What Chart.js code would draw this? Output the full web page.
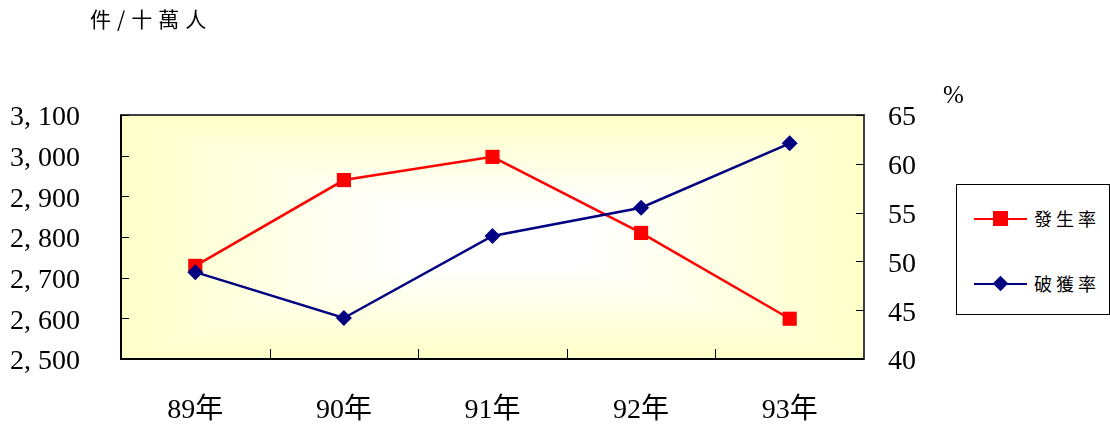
<!DOCTYPE html>
<html>
<head>
<meta charset="utf-8">
<script src="https://cdn.jsdelivr.net/npm/chart.js@4.4.0/dist/chart.umd.min.js"></script>
<style>
html, body { margin: 0; padding: 0; background: #fff; }
#wrap { position: relative; width: 1110px; height: 427px; overflow: hidden; }
#chart { position: absolute; left: 0; top: 0; }
.unit { position: absolute; color: #000; line-height: 1; white-space: nowrap; }
#unitLeft { left: 90px; top: 8px; font-family: 'Noto Sans CJK TC', sans-serif; font-size: 21px; letter-spacing: 6px; }
#unitRight { left: 943px; top: 82px; font-family: 'Liberation Serif', serif; font-size: 25px; }
#legend { position: absolute; left: 956px; top: 184px; width: 152px; height: 129px; border: 1px solid #000; background: #fff; }
.item { position: absolute; left: 0; width: 152px; height: 30px; }
.item .line { position: absolute; left: 17px; width: 53px; height: 2px; top: 14px; }
.item .mark { position: absolute; }
.item .txt { position: absolute; left: 77px; top: 4px; font-family: 'Noto Sans CJK TC', sans-serif; font-size: 18px; letter-spacing: 4px; line-height: 1.2; color: #000; }
</style>
</head>
<body>
<div id="wrap">
  <canvas id="chart" width="1110" height="427"></canvas>
  <div class="unit" id="unitLeft">件/十萬人</div>
  <div class="unit" id="unitRight">%</div>
  <div id="legend"></div>
</div>
<script>
// --- 資料 ---
const years = ['89年', '90年', '91年', '92年', '93年'];
const occurRate = [2729, 2940, 2997, 2810, 2599];   // 發生率 (件/十萬人)
const clearRate = [48.9, 44.2, 52.6, 55.5, 62.1];   // 破獲率 (%)
const seriesNames = ['發生率', '破獲率'];

const RED = '#ff0000';
const NAVY = '#000080';
const NUM_FONT = "'Liberation Serif', 'Noto Sans CJK TC', serif";

// 繪圖區背景 (由中心向外的漸層)、外框與內側刻度
const plotFrame = {
    id: 'plotFrame',
    beforeDatasetsDraw(chart) {
        const { ctx, chartArea: a, scales } = chart;
        const cx = (a.left + a.right) / 2;
        const cy = (a.top + a.bottom) / 2;
        const sides = [
            [[a.left, a.top], [a.right, a.top], [cx, a.top]],
            [[a.right, a.top], [a.right, a.bottom], [a.right, cy]],
            [[a.right, a.bottom], [a.left, a.bottom], [cx, a.bottom]],
            [[a.left, a.bottom], [a.left, a.top], [a.left, cy]]
        ];
        ctx.save();
        sides.forEach(([p1, p2, edge]) => {
            const g = ctx.createLinearGradient(cx, cy, edge[0], edge[1]);
            g.addColorStop(0, '#ffffff');
            g.addColorStop(0.25, '#ffffff');
            g.addColorStop(1, '#ffffc8');
            ctx.beginPath();
            ctx.moveTo(cx, cy);
            ctx.lineTo(p1[0], p1[1]);
            ctx.lineTo(p2[0], p2[1]);
            ctx.closePath();
            ctx.fillStyle = g;
            ctx.strokeStyle = g;
            ctx.lineWidth = 1;
            ctx.fill();
            ctx.stroke();
        });

        // 外框
        ctx.strokeStyle = '#404040';
        ctx.lineWidth = 2;
        ctx.strokeRect(a.left, a.top, a.right - a.left, a.bottom - a.top);
        ctx.strokeStyle = '#000';
        ctx.beginPath();
        ctx.moveTo(a.left, a.top);
        ctx.lineTo(a.left, a.bottom);
        ctx.lineTo(a.right, a.bottom);
        ctx.stroke();

        // 內側刻度
        ctx.lineWidth = 1;
        ctx.strokeStyle = '#000';
        ctx.beginPath();
        scales.y.ticks.forEach(t => {
            const py = Math.round(scales.y.getPixelForValue(t.value)) + 0.5;
            ctx.moveTo(a.left, py);
            ctx.lineTo(a.left + 8, py);
        });
        scales.y2.ticks.forEach(t => {
            const py = Math.round(scales.y2.getPixelForValue(t.value)) + 0.5;
            ctx.moveTo(a.right, py);
            ctx.lineTo(a.right - 8, py);
        });
        for (let i = 1; i < years.length; i++) {
            const px = Math.round((scales.x.getPixelForValue(i - 1) + scales.x.getPixelForValue(i)) / 2) + 0.5;
            ctx.moveTo(px, a.bottom);
            ctx.lineTo(px, a.bottom - 10);
        }
        ctx.stroke();
        ctx.restore();
    }
};

const chart = new Chart(document.getElementById('chart'), {
    type: 'line',
    data: {
        labels: years,
        datasets: [{
            label: seriesNames[0],
            data: occurRate,
            yAxisID: 'y',
            borderColor: RED,
            backgroundColor: RED,
            borderWidth: 2.5,
            pointStyle: 'rect',
            pointRadius: 10,
            pointBorderWidth: 0,
            order: 1
        }, {
            label: seriesNames[1],
            data: clearRate,
            yAxisID: 'y2',
            borderColor: NAVY,
            backgroundColor: NAVY,
            borderWidth: 2.5,
            pointStyle: 'rectRot',
            pointRadius: 8,
            pointBorderWidth: 0,
            order: 0
        }]
    },
    options: {
        responsive: false,
        animation: false,
        layout: { padding: { top: 115, left: 0, right: 0, bottom: 0 } },
        plugins: {
            legend: { display: false },
            tooltip: { enabled: false }
        },
        scales: {
            x: {
                offset: true,
                grid: { display: false, drawTicks: false },
                border: { display: false },
                ticks: { color: '#000', font: { family: NUM_FONT, size: 28 }, padding: 35, maxRotation: 0 },
                afterFit(s) { s.height = 68; }
            },
            y: {
                position: 'left',
                min: 2500,
                max: 3100,
                grid: { display: false, drawTicks: false },
                border: { display: false },
                ticks: {
                    stepSize: 100,
                    color: '#000',
                    padding: 41,
                    labelOffset: 3,
                    font: { family: NUM_FONT, size: 28 },
                    callback: v => v.toLocaleString('en-US').replace(',', ', ')
                },
                afterFit(s) { s.width = 121; }
            },
            y2: {
                position: 'right',
                min: 40,
                max: 65,
                grid: { display: false, drawTicks: false },
                border: { display: false },
                ticks: { stepSize: 5, color: '#000', padding: 24, labelOffset: 3, font: { family: NUM_FONT, size: 28 } },
                afterFit(s) { s.width = 246; }
            }
        }
    },
    plugins: [plotFrame]
});

// 圖例 (HTML)
const legend = document.getElementById('legend');
const legendTops = [19, 84];
chart.data.datasets.forEach((ds, i) => {
    const item = document.createElement('div');
    item.className = 'item';
    item.style.top = legendTops[i] + 'px';
    const line = document.createElement('div');
    line.className = 'line';
    line.style.background = ds.borderColor;
    const mark = document.createElement('div');
    mark.className = 'mark';
    mark.style.background = ds.backgroundColor;
    if (ds.pointStyle === 'rect') {
        Object.assign(mark.style, { width: '15px', height: '15px', left: '36px', top: '7px' });
    } else {
        Object.assign(mark.style, { width: '11px', height: '11px', left: '38px', top: '9px', transform: 'rotate(45deg)' });
    }
    const txt = document.createElement('div');
    txt.className = 'txt';
    txt.textContent = ds.label;
    item.append(line, mark, txt);
    legend.appendChild(item);
});
</script>
</body>
</html>
